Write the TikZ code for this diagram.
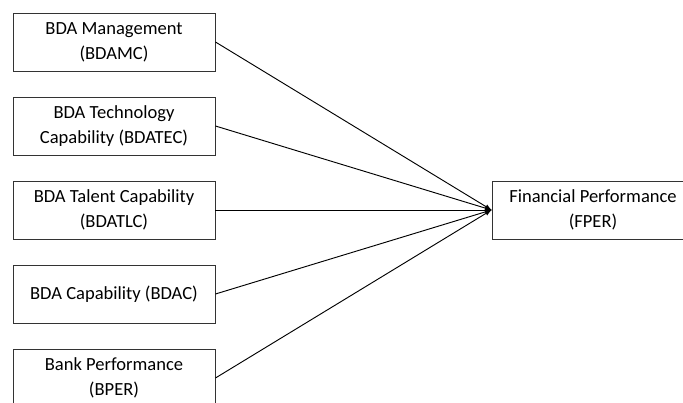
\documentclass[tikz,border=0pt]{standalone}
\usepackage{fontspec}
\setmainfont{Carlito}
\begin{document}
\begin{tikzpicture}[x=0.75pt,y=-0.75pt,
  varbox/.style={rectangle, draw=black!80, fill=white, line width=0.7pt, minimum width=151.5pt, minimum height=43.5pt, align=center, inner sep=0pt, font=\fontsize{13.9}{18.75}\selectfont},
  path/.style={draw=black, line width=0.7pt, -latex}]
\useasboundingbox (0,0) rectangle (683,403);
\node [varbox] (bdamc) at (114,42) {BDA Management\\(BDAMC)};
\node [varbox] (bdatec) at (114,126) {BDA Technology\\Capability (BDATEC)};
\node [varbox] (bdatlc) at (114,210) {BDA Talent Capability\\(BDATLC)};
\node [varbox] (bdac) at (114,294) {BDA Capability (BDAC)};
\node [varbox] (bper) at (114,378) {Bank Performance\\(BPER)};
\node [varbox] (fper) at (593,210) {Financial Performance\\(FPER)};
\draw [path] (bdamc.east) -- (fper.west);
\draw [path] (bdatec.east) -- (fper.west);
\draw [path] (bdatlc.east) -- (fper.west);
\draw [path] (bdac.east) -- (fper.west);
\draw [path] (bper.east) -- (fper.west);
\end{tikzpicture}
\end{document}
